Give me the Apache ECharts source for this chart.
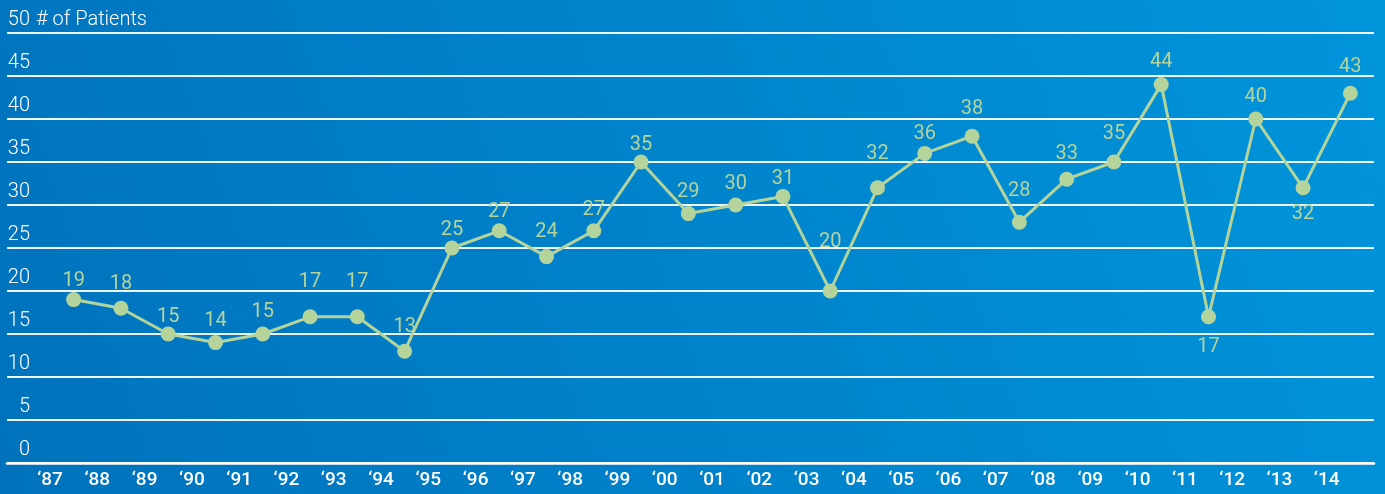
<!DOCTYPE html>
<html>
<head>
<meta charset="utf-8">
<title># of Patients</title>
<script src="https://cdn.jsdelivr.net/npm/echarts@6/dist/echarts.min.js"></script>
<style>
  html, body { margin: 0; padding: 0; }
  #chart { width: 1385px; height: 494px; }
</style>
</head>
<body>
<div id="chart"></div>
<script>
// Year tick labels along the bottom
const years = ['\u201887','\u201888','\u201889','\u201890','\u201891','\u201892','\u201893','\u201894','\u201895','\u201896',
  '\u201897','\u201898','\u201899','\u201800','\u201801','\u201802','\u201803','\u201804','\u201805','\u201806',
  '\u201807','\u201808','\u201809','\u201810','\u201811','\u201812','\u201813','\u201814'];

// Number of patients per year
const patients = [19, 18, 15, 14, 15, 17, 17, 13, 25, 27, 24, 27, 35, 29, 30, 31, 20, 32, 36, 38, 28, 33, 35, 44, 17, 40, 32, 43];

// Value axis ticks
const yTicks = [0, 5, 10, 15, 20, 25, 30, 35, 40, 45, 50];
const yName = '# of Patients';

// Label placement: gap (px) between marker and its value label; negative means below
const labelGap = [1, 7, 0, 4, 5, 17, 17, 7, 1, 1, 7, 3, 0, 4, 4, 0, 32, 16, 2, 10, 14, 8, 11, 5, -13, 5, -9, 9];

const LINE = '#b4d49b';
const FONT = 'Roboto, "Open Sans", sans-serif';

const points = patients.map((v, i) => {
  const g = labelGap[i];
  return {
    value: [i, v],
    label: g < 0
      ? { position: 'bottom', distance: -g }
      : { position: 'top', distance: g }
  };
});

const chart = echarts.init(document.getElementById('chart'), null, { renderer: 'canvas' });

chart.setOption({
  animation: false,
  backgroundColor: {
    type: 'linear', x: 0, y: 1, x2: 1, y2: 0,
    colorStops: [
      { offset: 0, color: '#0072bc' },
      { offset: 1, color: '#0095db' }
    ]
  },
  grid: [
    { left: 7, right: 11, top: 33, bottom: 31, containLabel: false },
    { left: 50, right: 11, top: 33, bottom: 31, containLabel: false }
  ],
  xAxis: [
    {
      gridIndex: 0, type: 'value', min: 0, max: 1,
      axisLine: { show: true, lineStyle: { color: '#ffffff', width: 2.5 } },
      axisTick: { show: false }, axisLabel: { show: false }, splitLine: { show: false }
    },
    {
      gridIndex: 1, type: 'value', min: -0.5, max: years.length - 0.5, interval: 1,
      axisLine: { show: false }, axisTick: { show: false }, splitLine: { show: false },
      axisLabel: {
        color: '#ffffff', fontFamily: FONT, fontSize: 19, fontWeight: 500, margin: 8,
        showMinLabel: true, showMaxLabel: true,
        formatter: v => years[Math.round(v + 0.5)] || ''
      }
    }
  ],
  yAxis: [
    {
      gridIndex: 0, type: 'value', min: yTicks[0], max: yTicks[yTicks.length - 1],
      interval: yTicks[1] - yTicks[0],
      name: yName, nameLocation: 'end', nameGap: 3,
      nameTextStyle: {
        color: '#ffffff', fontFamily: FONT, fontSize: 20, fontWeight: 300,
        align: 'left', verticalAlign: 'bottom', padding: [0, 0, 0, 29]
      },
      axisLine: { show: false }, axisTick: { show: false },
      splitLine: { show: true, lineStyle: { color: '#eef6fc', width: 1.8 } },
      axisLabel: {
        inside: true, margin: 23, align: 'right', verticalAlign: 'bottom',
        padding: [0, 0, 3, 0],
        color: '#ffffff', fontFamily: FONT, fontSize: 20, fontWeight: 300
      }
    },
    {
      gridIndex: 1, type: 'value', min: yTicks[0], max: yTicks[yTicks.length - 1],
      show: false, splitLine: { show: false }
    }
  ],
  series: [
    {
      type: 'line',
      xAxisIndex: 1, yAxisIndex: 1,
      data: points,
      symbol: 'circle', symbolSize: 15,
      lineStyle: { color: LINE, width: 3 },
      itemStyle: { color: LINE },
      label: {
        show: true, color: LINE, fontFamily: FONT, fontSize: 20,
        formatter: p => p.value[1]
      }
    }
  ]
});
</script>
</body>
</html>
